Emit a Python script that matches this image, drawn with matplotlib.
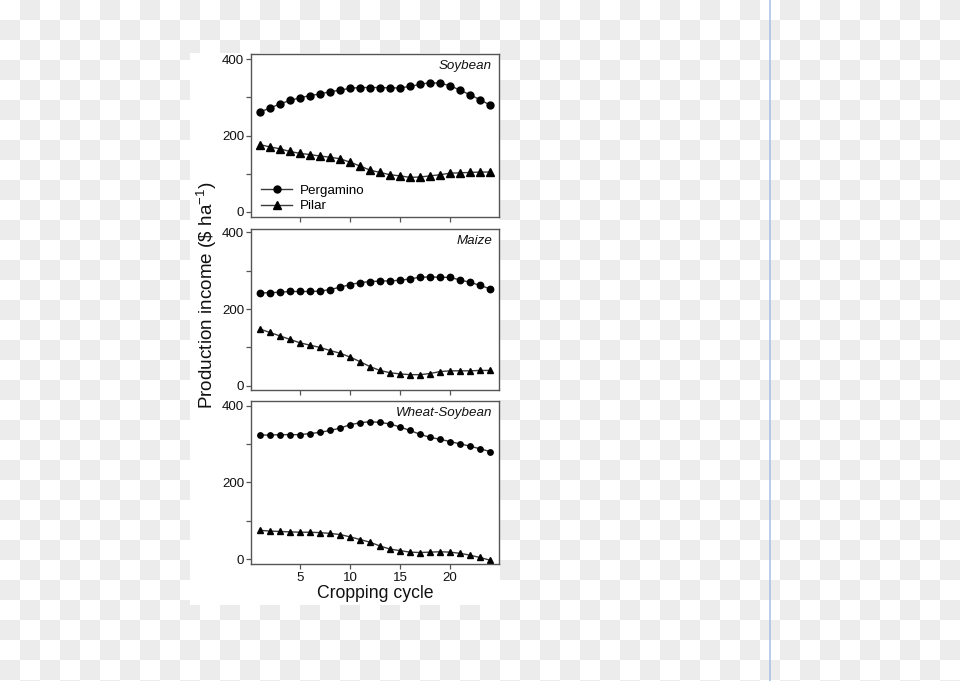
import numpy as np
import matplotlib
matplotlib.use("Agg")
import matplotlib.pyplot as plt
from matplotlib.patches import Rectangle

plt.rcParams['font.family'] = ['Liberation Sans', 'DejaVu Sans']
plt.rcParams['mathtext.fontset'] = 'custom'
plt.rcParams['mathtext.rm'] = 'Liberation Sans'
plt.rcParams['mathtext.default'] = 'regular'

cycles = list(range(1, 25))

soy_pergamino = [262, 272, 283, 292, 299, 305, 309, 315, 319, 324, 326, 326,
                 326, 325, 325, 329, 334, 339, 337, 331, 319, 307, 294, 280]
soy_pilar = [176, 170, 165, 158, 153, 150, 146, 143, 139, 130, 120, 109,
             103, 97, 94, 90, 91, 94, 97, 101, 102, 103, 104, 104]

maize_pergamino = [242, 243, 244, 246, 246, 246, 247, 251, 257, 264, 269, 272,
                   273, 274, 275, 279, 283, 284, 283, 283, 276, 270, 262, 253]
maize_pilar = [148, 139, 130, 121, 112, 106, 100, 92, 85, 75, 63, 50,
               40, 34, 31, 29, 29, 32, 37, 39, 39, 39, 40, 40]

ws_pergamino = [324, 324, 325, 325, 325, 328, 331, 336, 342, 351, 356, 359,
                357, 353, 345, 336, 326, 318, 313, 307, 301, 295, 288, 281]
ws_pilar = [75, 73, 72, 71, 70, 70, 69, 67, 64, 58, 51, 44,
            34, 26, 22, 18, 17, 18, 19, 18, 15, 10, 4, -3]

panels = ["Soybean", "Maize", "Wheat-Soybean"]
series_names = ["Pergamino", "Pilar"]
xticks = [5, 10, 15, 20]
yticks_major = [0, 200, 400]
yticks_minor = [100, 300]

W, H = 960, 681
fig = plt.figure(figsize=(W / 100, H / 100), dpi=100)

# checkerboard backdrop
bg = fig.add_axes([0, 0, 1, 1], zorder=-10)
yy, xx = np.mgrid[0:H, 0:W]
checker = ((yy // 20 + xx // 20) % 2).astype(float)
bg.imshow(checker, cmap=matplotlib.colors.ListedColormap(['#ffffff', '#ececec']),
          vmin=0, vmax=1, extent=[0, W, H, 0], aspect='auto', interpolation='nearest')
bg.set_xlim(0, W)
bg.set_ylim(H, 0)
bg.axis('off')
bg.add_patch(Rectangle((190, 53), 310, 552, facecolor='white', edgecolor='none'))
bg.plot([770, 770], [0, H], color='#a9c3e6', lw=1.2)

def ax_rect(top, bottom, left=251, right=499):
    return [left / W, (H - bottom) / H, (right - left) / W, (bottom - top) / H]

rects = [ax_rect(54, 217), ax_rect(229, 390), ax_rect(401, 564)]
ylims = [(-14, 414), (-11, 409), (-13, 413)]
data = [(soy_pergamino, soy_pilar), (maize_pergamino, maize_pilar), (ws_pergamino, ws_pilar)]
msizes = [(5.0, 5.2), (4.6, 4.7), (3.9, 4.1)]

spine_col = '#555555'
axes = []
for i, (rect, yl, (p1, p2), ms) in enumerate(zip(rects, ylims, data, msizes)):
    ax = fig.add_axes(rect)
    ax.plot(cycles, p1, color='#3a3a3a', lw=1.0, marker='o', ms=ms[0],
            mfc='black', mec='black', label=series_names[0])
    ax.plot(cycles, p2, color='#3a3a3a', lw=1.0, marker='^', ms=ms[1],
            mfc='black', mec='black', label=series_names[1])
    ax.set_xlim(0.1, 24.9)
    ax.set_ylim(*yl)
    ax.set_xticks(xticks)
    ax.set_yticks(yticks_major)
    ax.set_yticks(yticks_minor, minor=True)
    ax.tick_params(which='both', direction='out', length=3.5, width=0.9,
                   color=spine_col, labelsize=9.6, labelcolor='#111111', pad=1.5)
    ax.tick_params(axis='x', which='both', labelbottom=(i == 2), pad=2)
    for s in ax.spines.values():
        s.set_color(spine_col)
        s.set_linewidth(1.0)
    ax.text(0.972, 0.965, panels[i], transform=ax.transAxes, ha='right', va='top',
            style='italic', fontsize=9.6, color='#111111')
    axes.append(ax)

axes[0].legend(loc='lower left', bbox_to_anchor=(0.01, -0.02), frameon=False,
               fontsize=9.6, handlelength=2.3, handletextpad=0.6,
               labelspacing=0.25, borderaxespad=0.2)

axes[2].set_xlabel("Cropping cycle", fontsize=12.7, labelpad=1, color='#111111')
fig.text(207 / W, (H - 295) / H, "Production income (\\$ ha$^{-1}$)", rotation=90,
         ha='center', va='center', fontsize=13.6, color='#111111')

fig.savefig("out.png", dpi=100)
